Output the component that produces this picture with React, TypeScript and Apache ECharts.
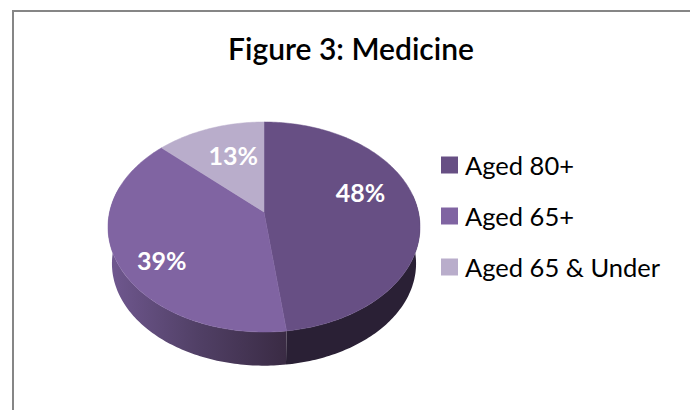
import React, { useEffect, useRef } from "react";
import * as echarts from "echarts";

const titleText = "Figure 3: Medicine";
const categories = ["Aged 80+", "Aged 65+", "Aged 65 & Under"];
const values = [48, 39, 13];
const colors = ["#674F84", "#8064A2", "#B9ADCB"];

// perspective model of the tilted disc
const APEX_X = 264;
const APEX_Y = 212;
const TILT = 1 / 7;
const TOP_RX = 154.4;
const TOP_RY = 102.86;
const BASE_RX = 150.5;
const BASE_RY = 100;
const BASE_Y = 249;
const LABEL_R = 0.63;
const labelOffsets = [[0, -16], [-12, 17], [5, -2]];

const total = values.reduce((a, b) => a + b, 0);
const rad = (d: number) => (d * Math.PI) / 180;

function project(deg: number, r: number, cy: number, rx: number, ry: number) {
  const X = Math.sin(rad(deg)) * r;
  const Yd = -Math.cos(rad(deg)) * r;
  const w = 1 - TILT * Yd;
  return [APEX_X + (rx * X) / w, cy + (ry * Yd) / w];
}

function arc(a: number, b: number, cy: number, rx: number, ry: number) {
  const pts: number[][] = [];
  const n = Math.max(2, Math.ceil(Math.abs(b - a)));
  for (let i = 0; i <= n; i++) pts.push(project(a + ((b - a) * i) / n, 1, cy, rx, ry));
  return pts;
}

function sideFill(index: number) {
  if (index === 0) return "#2A2035";
  return new echarts.graphic.LinearGradient(0, 0, 1, 0, [
    { offset: 0, color: "#705890" },
    { offset: 0.5, color: "#514066" },
    { offset: 1, color: "#3A2B44" },
  ]);
}

function makeRenderItem(index: number) {
  const before = values.slice(0, index).reduce((a, b) => a + b, 0);
  return (_params: any, api: any) => {
    const v = api.value(0);
    const start = (before / total) * 360;
    const end = ((before + v) / total) * 360;
    const children: any[] = [];
    const sStart = Math.max(start, 80);
    const sEnd = Math.min(end, 285);
    if (sEnd > sStart) {
      const fill = sideFill(index);
      const pts = arc(sStart, sEnd, APEX_Y, TOP_RX, TOP_RY).concat(
        arc(sStart, sEnd, BASE_Y, BASE_RX, BASE_RY).reverse()
      );
      children.push({ type: "polygon", z2: 1, shape: { points: pts }, style: { fill } });
    }
    const top = [[APEX_X, APEX_Y], ...arc(start, end, APEX_Y, TOP_RX, TOP_RY)];
    children.push({
      type: "polygon",
      z2: 2,
      shape: { points: top },
      style: { fill: colors[index], stroke: colors[index], lineWidth: 0.5 },
    });
    const mid = project((start + end) / 2, LABEL_R, APEX_Y, TOP_RX, TOP_RY);
    children.push({
      type: "text",
      z2: 3,
      style: {
        text: `${v}%`,
        x: mid[0] + labelOffsets[index][0],
        y: mid[1] + labelOffsets[index][1],
        fill: "#FFFFFF",
        font: "bold 25px Lato",
        align: "center",
        verticalAlign: "middle",
      },
    });
    return { type: "group", children };
  };
}

export default function App() {
  const ref = useRef<HTMLDivElement>(null);
  useEffect(() => {
    document.body.style.margin = "0";
    const chart = echarts.init(ref.current!, undefined, { renderer: "svg" });
    chart.setOption({
      animation: false,
      backgroundColor: "#FFFFFF",
      title: {
        text: titleText,
        left: 351,
        top: 33,
        padding: 0,
        textAlign: "center",
        textStyle: { fontFamily: "Lato", fontSize: 30, fontWeight: 600, color: "#000000" },
      },
      legend: {
        orient: "vertical",
        left: 441,
        top: 152,
        padding: 0,
        itemWidth: 17,
        itemHeight: 17,
        itemGap: 25,
        icon: "rect",
        data: categories,
        selectedMode: false,
        textStyle: { fontFamily: "Lato", fontSize: 25.5, lineHeight: 17, color: "#000000", padding: [0, 0, 0, 2] },
      },
      graphic: [
        { type: "line", shape: { x1: 13, y1: 11, x2: 690, y2: 11 }, style: { stroke: "#868686", lineWidth: 2 } },
        { type: "line", shape: { x1: 13, y1: 10, x2: 13, y2: 410 }, style: { stroke: "#868686", lineWidth: 2 } },
      ],
      series: categories.map((name, i) => ({
        type: "custom",
        name,
        coordinateSystem: "none",
        itemStyle: { color: colors[i] },
        data: [[values[i]]],
        renderItem: makeRenderItem(i),
      })),
    });
    return () => chart.dispose();
  }, []);
  return <div ref={ref} style={{ width: 690, height: 410 }} />;
}
